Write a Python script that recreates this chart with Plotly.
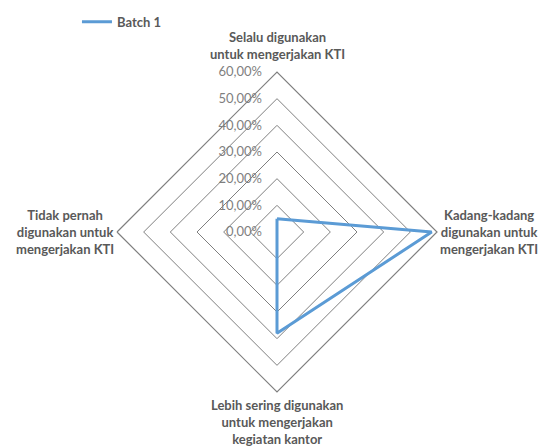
import plotly.graph_objects as go

# Survey categories (clockwise from the top) and share of respondents
categories = [
    "Selalu digunakan<br>untuk mengerjakan KTI",
    "Kadang-kadang<br>digunakan untuk<br>mengerjakan KTI",
    "Lebih sering digunakan<br>untuk mengerjakan<br>kegiatan kantor",
    "Tidak pernah<br>digunakan untuk<br>mengerjakan KTI",
]
batch1 = [0.05, 0.58, 0.38, 0.0]
series_name = "Batch 1"
radial_ticks = [0, 0.1, 0.2, 0.3, 0.4, 0.5, 0.6]

GRID = "#7f7f7f"
TEXT = "#595959"
FONT = "Lato"

fig = go.Figure()
fig.add_trace(go.Scatterpolar(
    r=batch1 + batch1[:1],
    theta=categories + categories[:1],
    mode="lines",
    name=series_name,
    line=dict(color="#5b9bd5", width=3),
))

# polar area: 320 px square centred on the page's plot region
W, H = 542, 446
cx, cy, rad = 277, 232, 160
dom_x = [(cx - rad) / W, (cx + rad) / W]
dom_y = [(H - cy - rad) / H, (H - cy + rad) / H]

fig.update_layout(
    width=W, height=H,
    margin=dict(l=0, r=0, t=0, b=0),
    paper_bgcolor="white",
    separators=",.",
    font=dict(family=FONT, color=TEXT, size=13),
    showlegend=True,
    legend=dict(
        x=0.142, y=0.985, xanchor="left", yanchor="top",
        font=dict(family=FONT, size=13, color=TEXT, weight="bold"),
        bgcolor="rgba(0,0,0,0)", itemwidth=30,
    ),
    polar=dict(
        domain=dict(x=dom_x, y=dom_y),
        gridshape="linear",
        bgcolor="white",
        radialaxis=dict(
            range=[0, 0.6],
            tickvals=radial_ticks,
            tickformat=".2%",
            angle=90,
            tickangle=90,
            side="counterclockwise",
            showline=False,
            ticks="outside",
            ticklen=10,
            tickcolor="rgba(0,0,0,0)",
            gridcolor=GRID,
            gridwidth=1.2,
            tickfont=dict(family=FONT, size=13, color="#7f7f7f"),
        ),
        angularaxis=dict(
            rotation=90,
            direction="clockwise",
            showgrid=False,
            showline=True,
            linecolor=GRID,
            linewidth=1.2,
            ticks="",
            showticklabels=False,
        ),
    ),
)

# Category labels placed just outside each vertex
label_pos = [
    (cx, cy - rad - 8, "center", "bottom"),
    (cx + rad + 52, cy, "center", "middle"),
    (cx, cy + rad + 3, "center", "top"),
    (cx - rad - 52, cy, "center", "middle"),
]
for text, (px, py, xa, ya) in zip(categories, label_pos):
    fig.add_annotation(
        x=px / W, y=1 - py / H, xref="paper", yref="paper",
        text=text, showarrow=False, align="center",
        xanchor=xa, yanchor=ya,
        font=dict(family=FONT, size=13, color=TEXT, weight="bold"),
    )

fig.write_html("out.html")
